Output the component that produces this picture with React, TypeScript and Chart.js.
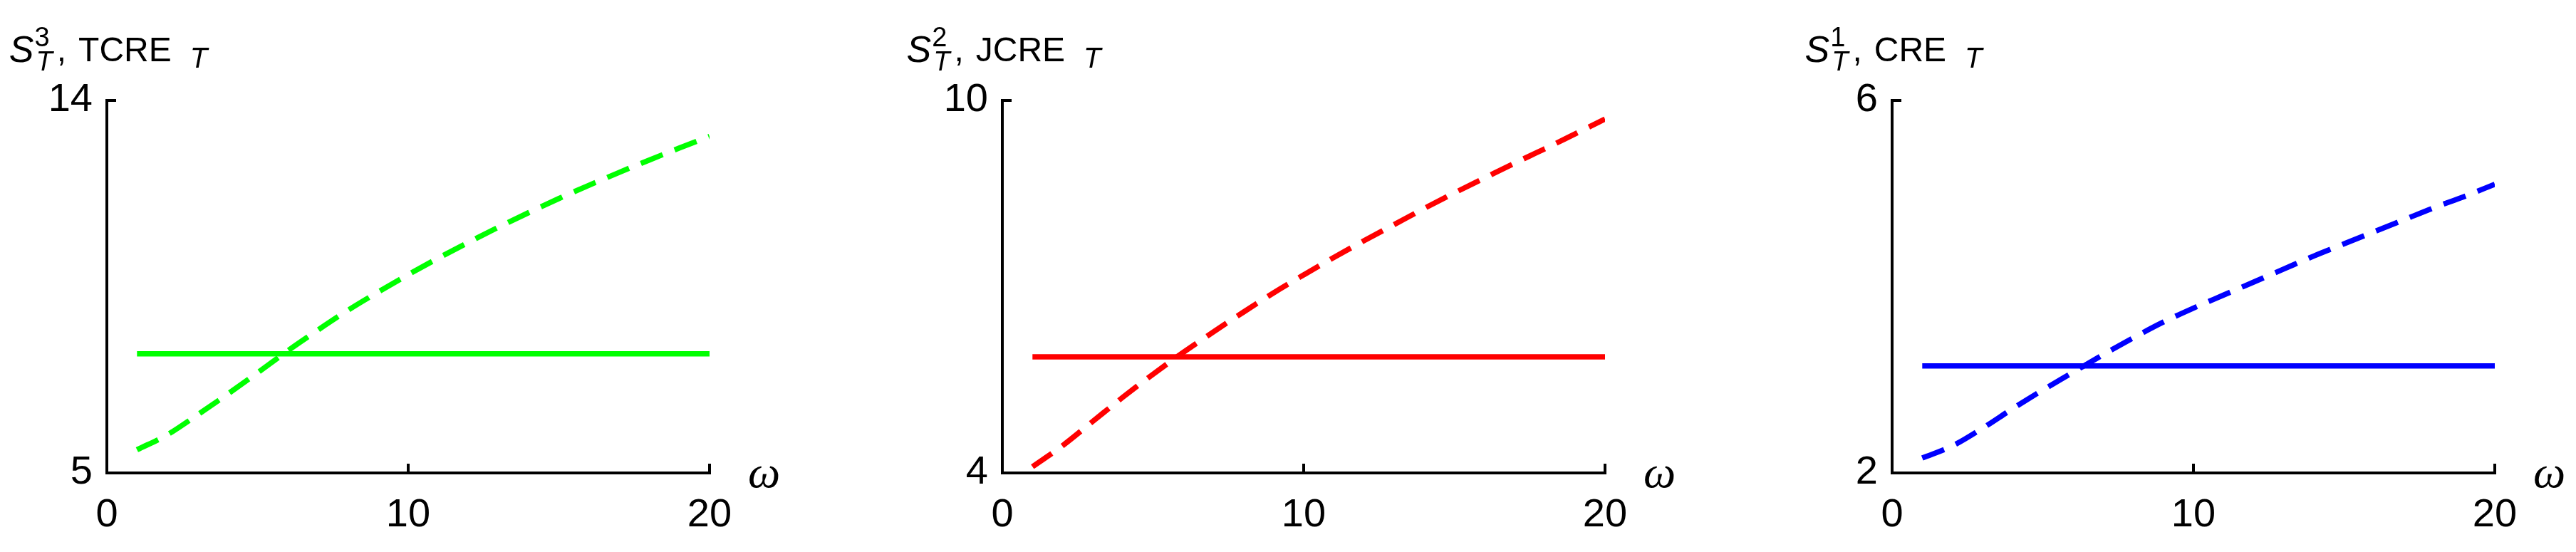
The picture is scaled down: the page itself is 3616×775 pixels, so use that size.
import React, { useEffect, useRef } from "react";
import { Chart, registerables } from "chart.js";

Chart.register(...registerables);

// ---------- data ----------
const omega = [1, 2, 3, 4, 5, 6, 7, 8, 9, 10, 11, 12, 13, 14, 15, 16, 17, 18, 19, 20];
const solidOmega = [1, 20];
const xTickValues = [0, 10, 20];

// Panel 1: S_T^3, TCRE_T (green)
const tcreDashed = [5.56, 5.92, 6.4, 6.9, 7.42, 7.95, 8.45, 8.93, 9.37, 9.79, 10.19, 10.57, 10.94, 11.29, 11.63, 11.95, 12.26, 12.56, 12.85, 13.13];
const s3Solid = [7.88, 7.88];
const panel1YTicks = [5, 14];

// Panel 2: S_T^2, JCRE_T (red)
const jcreDashed = [4.1, 4.44, 4.83, 5.22, 5.59, 5.94, 6.27, 6.59, 6.9, 7.19, 7.47, 7.74, 8.0, 8.26, 8.51, 8.75, 8.99, 9.22, 9.46, 9.7];
const s2Solid = [5.87, 5.87];
const panel2YTicks = [4, 10];

// Panel 3: S_T^1, CRE_T (blue)
const creDashed = [2.16, 2.29, 2.48, 2.69, 2.89, 3.08, 3.27, 3.45, 3.62, 3.77, 3.91, 4.05, 4.19, 4.33, 4.46, 4.59, 4.72, 4.85, 4.97, 5.1];
const s1Solid = [3.15, 3.15];
const panel3YTicks = [2, 6];

const panels = [
  { left: 0, sup: "3", word: "TCRE", color: "#00ff00", dashed: tcreDashed, solid: s3Solid, yTicks: panel1YTicks },
  { left: 1257, sup: "2", word: "JCRE", color: "#ff0000", dashed: jcreDashed, solid: s2Solid, yTicks: panel2YTicks },
  { left: 2506, sup: "1", word: "CRE", color: "#0000ff", dashed: creDashed, solid: s1Solid, yTicks: panel3YTicks },
];

const CANVAS_W = 1110;
const CANVAS_H = 775;
const SANS = "'Liberation Sans', Arial, Helvetica, sans-serif";
const SERIF = "'Liberation Serif', 'Times New Roman', serif";

const decorPlugin = {
  id: "decor",
  afterDraw(chart: any, _args: any, opts: any) {
    const { ctx, chartArea } = chart;
    const { left, right, top, bottom } = chartArea;
    const xs = chart.scales.x;
    const ys = chart.scales.y;
    ctx.save();
    // axes
    ctx.strokeStyle = "#000";
    ctx.lineWidth = 4;
    ctx.lineCap = "butt";
    ctx.beginPath();
    ctx.moveTo(left, top - 2);
    ctx.lineTo(left, bottom + 2);
    ctx.moveTo(left - 2, bottom);
    ctx.lineTo(right + 2, bottom);
    for (const v of opts.xTicks) {
      const px = xs.getPixelForValue(v);
      ctx.moveTo(px, bottom);
      ctx.lineTo(px, bottom - 13);
    }
    for (const v of opts.yTicks) {
      const py = ys.getPixelForValue(v);
      ctx.moveTo(left, py);
      ctx.lineTo(left + 13, py);
    }
    ctx.stroke();

    // omega label
    ctx.fillStyle = "#000";
    ctx.textBaseline = "alphabetic";
    ctx.textAlign = "left";
    ctx.font = `italic 64px ${SERIF}`;
    ctx.fillText("\u03c9", right + 54, 684);

    // title: S_T^n, WORD_T
    const fMain = `48px ${SANS}`;
    const fMainIt = `italic 52px ${SANS}`;
    const fSup = `38px ${SANS}`;
    const fSubIt = `italic 38px ${SANS}`;
    const fSub2It = `italic 40px ${SANS}`;
    ctx.font = fMainIt;
    const wS = ctx.measureText("S").width;
    ctx.font = fSup;
    const wSup = ctx.measureText(opts.sup).width;
    ctx.font = fSubIt;
    const wSubT = ctx.measureText("T").width;
    ctx.font = fMain;
    const wComma = ctx.measureText(",").width;
    const wWord = ctx.measureText(opts.word).width;
    ctx.font = fSub2It;
    const wT2 = ctx.measureText("T").width;

    const x1 = wS + Math.max(wSup + 1, wSubT + 3);
    const commaPen = x1 + 6;
    const wordPen = commaPen + wComma + 17;
    const t2Pen = wordPen + wWord + 26;
    const total = t2Pen + wT2;
    const x0 = left - total / 2 + 2;

    ctx.font = fMainIt;
    ctx.fillText("S", x0, 87);
    ctx.font = fSup;
    ctx.fillText(opts.sup, x0 + wS + 1, 65);
    ctx.font = fSubIt;
    ctx.fillText("T", x0 + wS + 3, 99);
    ctx.font = fMain;
    ctx.fillText(",", x0 + commaPen, 86);
    ctx.fillText(opts.word, x0 + wordPen, 86);
    ctx.font = fSub2It;
    ctx.fillText("T", x0 + t2Pen, 95);
    ctx.restore();
  },
};

function Panel({ p }: { p: (typeof panels)[number] }) {
  const ref = useRef<HTMLCanvasElement | null>(null);
  useEffect(() => {
    if (!ref.current) return;
    const yMin = p.yTicks[0];
    const yMax = p.yTicks[p.yTicks.length - 1];
    const chart = new Chart(ref.current, {
      type: "line",
      data: {
        datasets: [
          {
            data: omega.map((w, i) => ({ x: w, y: p.dashed[i] })),
            borderColor: p.color,
            borderWidth: 7.5,
            borderDash: [33, 18],
            pointRadius: 0,
            fill: false,
            cubicInterpolationMode: "monotone",
          },
          {
            data: solidOmega.map((w, i) => ({ x: w, y: p.solid[i] })),
            borderColor: p.color,
            borderWidth: 7.5,
            pointRadius: 0,
            fill: false,
          },
        ],
      },
      options: {
        animation: false,
        responsive: false,
        devicePixelRatio: 1,
        layout: { padding: { left: 0, top: 141, right: 114, bottom: 0 } },
        plugins: {
          legend: { display: false },
          title: { display: false },
          tooltip: { enabled: false },
          decor: { xTicks: xTickValues, yTicks: p.yTicks, sup: p.sup, word: p.word },
        } as any,
        scales: {
          x: {
            type: "linear",
            min: 0,
            max: 20,
            afterBuildTicks: (s: any) => {
              s.ticks = xTickValues.map((v) => ({ value: v }));
            },
            afterFit: (s: any) => {
              s.height = 111;
            },
            grid: { display: false, drawTicks: false },
            border: { display: false },
            ticks: {
              padding: 26,
              color: "#000",
              font: { family: SANS, size: 56 },
              maxRotation: 0,
              autoSkip: false,
            },
          },
          y: {
            type: "linear",
            min: yMin,
            max: yMax,
            afterBuildTicks: (s: any) => {
              s.ticks = p.yTicks.map((v) => ({ value: v }));
            },
            afterFit: (s: any) => {
              s.width = 150;
            },
            grid: { display: false, drawTicks: false },
            border: { display: false },
            ticks: {
              padding: 20,
              color: "#000",
              font: { family: SANS, size: 56 },
              autoSkip: false,
            },
          },
        },
      },
      plugins: [decorPlugin],
    });
    return () => chart.destroy();
  }, [p]);
  return (
    <canvas
      ref={ref}
      width={CANVAS_W}
      height={CANVAS_H}
      style={{ position: "absolute", left: p.left, top: 0, width: CANVAS_W, height: CANVAS_H }}
    />
  );
}

export default function App() {
  return (
    <div
      style={{
        position: "fixed",
        left: 0,
        top: 0,
        width: 3616,
        height: 775,
        background: "#fff",
        overflow: "hidden",
      }}
    >
      {panels.map((p, i) => (
        <Panel key={i} p={p} />
      ))}
    </div>
  );
}
